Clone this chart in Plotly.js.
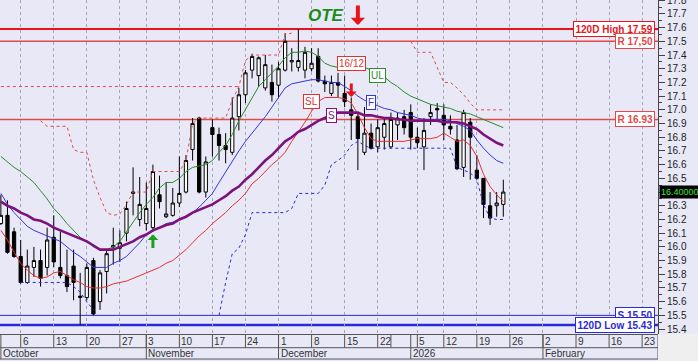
<!DOCTYPE html>
<html><head><meta charset="utf-8">
<script src="https://cdn.plot.ly/plotly-3.0.1.min.js"></script>
<style>html,body{margin:0;padding:0;background:#fff}#chart{width:698px;height:361px}</style>
</head><body><div id="chart"></div>
<script>
// ---------- DATA ----------
const dates = ['2025-10-01','2025-10-02','2025-10-03','2025-10-06','2025-10-07','2025-10-08','2025-10-09','2025-10-10','2025-10-13','2025-10-14','2025-10-15','2025-10-16','2025-10-17','2025-10-20','2025-10-21','2025-10-22','2025-10-23','2025-10-24','2025-10-27','2025-10-29','2025-10-30','2025-10-31',
'2025-11-03','2025-11-04','2025-11-05','2025-11-06','2025-11-07','2025-11-10','2025-11-11','2025-11-12','2025-11-13','2025-11-14','2025-11-17','2025-11-18','2025-11-19','2025-11-20','2025-11-21','2025-11-24','2025-11-25','2025-11-26','2025-11-27','2025-11-28',
'2025-12-01','2025-12-02','2025-12-03','2025-12-04','2025-12-05','2025-12-08','2025-12-09','2025-12-10','2025-12-11','2025-12-12','2025-12-15','2025-12-16','2025-12-17','2025-12-18','2025-12-19','2025-12-22','2025-12-23','2025-12-29','2025-12-30','2025-12-31',
'2026-01-02','2026-01-05','2026-01-07','2026-01-08','2026-01-09','2026-01-12','2026-01-13','2026-01-14','2026-01-15','2026-01-16','2026-01-19','2026-01-20','2026-01-21','2026-01-22','2026-01-23'];
const futureDates = ['2026-01-26','2026-01-27','2026-01-28','2026-01-29','2026-01-30','2026-02-02','2026-02-03','2026-02-04','2026-02-05','2026-02-06','2026-02-09','2026-02-10','2026-02-11','2026-02-12','2026-02-13','2026-02-16','2026-02-17','2026-02-18','2026-02-19','2026-02-20','2026-02-23','2026-02-24','2026-02-25','2026-02-26','2026-02-27'];

const open = [16.17,16.23,16.11,15.93,15.74,15.85,15.90,15.85,16.07,15.85,15.79,15.86,15.63,15.63,15.90,15.60,15.82,16.00,15.99,16.10,16.39,16.20,
16.17,16.14,16.38,16.22,16.23,16.32,16.40,16.71,16.94,16.40,16.87,16.82,16.74,16.69,16.95,17.11,17.29,17.25,17.16,17.20,
17.18,17.29,17.35,17.31,17.29,17.30,17.39,17.21,17.12,17.20,17.12,17.00,16.95,16.69,16.83,16.73,16.80,16.73,16.89,16.95,
16.98,16.80,16.73,16.95,17.01,16.96,16.88,16.78,16.58,16.91,16.56,16.50,16.30,16.30,16.31];
const high = [16.38,16.34,16.14,16.05,15.98,16.00,15.98,16.14,16.23,16.11,15.98,15.98,15.81,15.88,15.92,15.83,15.98,16.14,16.12,16.33,16.58,16.51,
16.47,16.60,16.52,16.47,16.43,16.66,16.67,16.94,16.95,16.66,16.93,16.87,16.83,17.09,17.16,17.29,17.41,17.39,17.40,17.33,
17.35,17.56,17.45,17.59,17.46,17.45,17.45,17.25,17.25,17.27,17.25,17.09,16.98,17.02,16.90,16.93,16.94,16.98,16.98,17.00,
17.04,16.87,16.94,17.04,17.05,17.04,16.96,16.89,17.00,16.94,16.67,16.50,16.40,16.40,16.49];
const low = [16.16,15.95,15.92,15.73,15.73,15.78,15.71,15.79,15.85,15.77,15.67,15.61,15.43,15.61,15.50,15.54,15.66,15.87,15.89,16.04,16.23,16.15,
16.12,16.11,16.28,16.21,16.22,16.29,16.39,16.63,16.39,16.36,16.66,16.63,16.61,16.67,16.85,17.05,17.23,17.17,17.14,17.06,
17.09,17.28,17.28,17.28,17.23,17.28,17.20,17.13,17.10,17.09,17.02,16.78,16.56,16.67,16.71,16.69,16.71,16.72,16.78,16.82,
16.71,16.72,16.56,16.89,16.93,16.78,16.82,16.56,16.51,16.49,16.49,16.21,16.16,16.22,16.22];
const close = [16.23,15.96,15.93,15.74,15.86,15.90,15.77,16.05,15.89,15.79,15.71,15.74,15.64,15.85,15.51,15.81,15.95,16.01,16.03,16.28,16.40,16.31,
16.28,16.55,16.33,16.24,16.32,16.39,16.63,16.90,16.40,16.62,16.82,16.74,16.71,16.94,17.11,17.27,17.39,17.38,17.33,17.11,
17.30,17.50,17.36,17.36,17.42,17.34,17.21,17.19,17.20,17.18,17.06,16.96,16.79,16.83,16.72,16.87,16.90,16.93,16.94,16.87,
16.80,16.76,16.85,16.98,17.00,16.89,16.86,16.57,16.98,16.80,16.50,16.31,16.21,16.32,16.40];

// indicator lines (S = purple, F = blue, UL = green, SL = red)
const sLine = [16.33,16.30,16.28,16.25,16.23,16.20,16.19,16.17,16.14,16.12,16.10,16.08,16.06,16.04,16.01,15.98,15.98,15.98,16.00,16.02,16.04,16.07,16.09,16.12,16.14,16.16,16.17,16.20,16.22,16.25,16.27,16.29,16.31,16.34,16.37,16.41,16.44,16.49,16.53,16.58,16.63,16.67,16.72,16.77,16.80,16.84,16.86,16.89,16.92,16.94,16.96,16.98,16.98,16.98,16.98,16.96,16.96,16.95,16.94,16.94,16.93,16.93,16.92,16.92,16.92,16.92,16.92,16.91,16.91,16.91,16.90,16.88,16.86,16.82,16.79,16.76,16.74];
const fLine = [16.39,16.31,16.25,16.20,16.15,16.12,16.10,16.08,16.06,16.04,16.00,15.96,15.93,15.89,15.85,15.85,15.85,15.88,15.90,15.93,15.98,16.03,16.09,16.12,16.14,16.17,16.18,16.20,16.22,16.25,16.29,16.34,16.39,16.47,16.55,16.62,16.70,16.77,16.83,16.89,16.95,17.02,17.09,17.16,17.19,17.20,17.21,17.22,17.22,17.21,17.20,17.20,17.17,17.14,17.10,17.07,17.05,17.03,17.01,17.00,16.98,16.97,16.96,16.94,16.93,16.93,16.93,16.93,16.92,16.90,16.88,16.85,16.78,16.72,16.67,16.63,16.61];
const ulLine = [16.66,16.62,16.58,16.55,16.51,16.47,16.41,16.35,16.28,16.23,16.17,16.12,16.07,16.04,16.00,15.98,15.98,16.00,16.04,16.11,16.18,16.25,16.31,16.36,16.43,16.47,16.47,16.50,16.55,16.58,16.59,16.60,16.63,16.69,16.74,16.82,16.92,17.00,17.09,17.17,17.22,17.27,17.32,17.38,17.42,17.42,17.43,17.42,17.39,17.34,17.32,17.31,17.32,17.34,17.33,17.31,17.29,17.27,17.24,17.20,17.17,17.13,17.10,17.08,17.06,17.04,17.03,17.02,17.01,16.99,16.98,16.97,16.95,16.93,16.91,16.89,16.87];
const slLine = [16.12,16.05,15.96,15.88,15.83,15.79,15.77,15.78,15.81,15.82,15.79,15.76,15.74,15.71,15.70,15.70,15.71,15.73,15.74,15.75,15.77,15.79,15.81,15.83,15.85,15.88,15.90,15.94,15.98,16.03,16.08,16.12,16.17,16.21,16.25,16.30,16.34,16.39,16.46,16.50,16.55,16.60,16.64,16.69,16.77,16.84,16.91,16.99,17.06,17.09,17.09,17.09,17.08,17.05,16.97,16.87,16.79,16.77,16.77,16.77,16.77,16.77,16.78,16.79,16.79,16.79,16.80,16.83,16.80,16.77,16.78,16.74,16.66,16.53,16.44,16.38,16.33];
// trailing stop lines (dotted), null where not drawn
const upperStop = [null,null,null,null,null,null,16.92,16.88,16.88,16.88,16.88,16.71,16.69,16.69,16.49,16.36,16.25,16.23,16.24,16.31,16.40,16.40,16.40,16.55,16.55,16.55,16.55,16.55,16.63,16.90,16.94,16.94,16.94,16.94,16.94,17.07,17.17,17.36,17.40,17.40,17.40,17.40,17.40,17.55,17.56,null,null,null,null,null,null,null,null,null,null,null,null,null,null,null,null,null,17.50,17.42,17.42,17.42,17.31,17.20,17.20,17.16,17.11,17.05,17.00,17.00,17.00,17.00,17.00];
const lowerStop = [null,null,null,15.74,15.74,15.74,15.74,15.74,15.74,15.74,15.74,15.71,15.67,15.60,15.54,null,null,null,null,null,null,null,null,null,null,null,null,null,null,null,null,null,null,15.50,15.74,15.95,15.99,16.09,16.25,16.25,16.25,16.25,16.25,16.25,16.28,16.39,16.39,16.39,16.39,16.45,16.60,16.63,16.67,16.74,16.77,16.74,16.72,16.72,16.72,16.72,16.72,16.72,16.72,16.72,16.72,16.72,16.72,16.72,16.72,16.58,16.56,16.54,16.49,16.31,16.21,16.20,16.20];
const prevStopLevel = 17.17;
const prevStopDates = ['2025-10-01','2025-11-21'];

// horizontal levels
const levelValues = [17.59, 17.50, 16.93, 15.50, 15.43];
const levelLabels = ['120D High 17.59', 'R 17,50', 'R 16.93', 'S 15.50', '120D Low 15.43'];

// price axis labels (16.4 sits under the last-price box)
const yTickLabels = ['15.4','15.5','15.6','15.7','15.8','15.9','16.0','16.1','16.2','16.3','16.5','16.6','16.7','16.8','16.9','17.0','17.1','17.2','17.3','17.4','17.5','17.6','17.7','17.8'];

// date axis
const weekTicks = ['2025-10-06','2025-10-13','2025-10-20','2025-10-27','2025-11-03','2025-11-10','2025-11-17','2025-11-24','2025-12-01','2025-12-08','2025-12-15','2025-12-22','2026-01-05','2026-01-12','2026-01-19','2026-01-26','2026-02-02','2026-02-09','2026-02-16','2026-02-23'];
const weekLabels = ['6','13','20','27','3','10','17','24','1','8','15','22','5','12','19','26','2','9','16','23'];
const blankWeekSeps = ['2025-12-29'];
const monthStarts = ['2025-10-01','2025-11-03','2025-12-01','2026-01-02','2026-02-02'];
const monthLabels = ['October','November','December','2026','February'];

// signals
const oteSignalDate = '2025-12-17';
const sellSignalDate = '2025-12-16';
const buySignalDate = '2025-11-04';

// ---------- STYLE ----------
const FONT = 'Liberation Sans, Arial, sans-serif';
const BG = 'rgb(232,232,247)';
const RED = '#e8141c', RED2 = '#e04a4a', BLUE = '#2a2ad6', GREEN = '#2a8a2a', PURPLE = '#7d127d';
const levelColors = [RED, RED2, RED2, BLUE, BLUE];
const levelWidths = [2, 1.5, 1.5, 1, 2.5];

const allDates = dates.concat(futureDates);
const idx = d => allDates.indexOf(d);

const traces = [];
traces.push({type:'scatter', mode:'lines', x: allDates, y: allDates.map(() => null), hoverinfo:'skip', showlegend:false});
traces.push({type:'candlestick', x: dates, open, high, low, close,
  increasing:{line:{color:'#000', width:1}, fillcolor:'#ffffff'},
  decreasing:{line:{color:'#000', width:1}, fillcolor:'#000000'},
  whiskerwidth:0, hoverinfo:'skip', showlegend:false});
function lt(x, y, color, width, dash){ return {type:'scatter', mode:'lines', x, y, line:{color, width, dash: dash || 'solid'}, connectgaps:false, hoverinfo:'skip', showlegend:false}; }
traces.push(lt(prevStopDates, prevStopDates.map(() => prevStopLevel), RED2, 1, 'dot'));
traces.push(lt(dates, upperStop, RED2, 1, 'dot'));
traces.push(lt(dates, lowerStop, BLUE, 1, 'dot'));
traces.push(lt(dates, ulLine, GREEN, 1));
traces.push(lt(dates, slLine, '#e83030', 1));
traces.push(lt(dates, fLine, '#3535e0', 1));
traces.push(lt(dates, sLine, PURPLE, 2.6));

const shapes = [];
levelValues.forEach((v, i) => shapes.push({type:'line', xref:'paper', x0:0, x1:1, yref:'y', y0:v, y1:v, layer:'between', line:{color:levelColors[i], width:levelWidths[i]}}));
const ROW1 = -0.041, ROW2 = -0.0749;
shapes.push({type:'line', xref:'paper', x0:0, x1:1, yref:'paper', y0:ROW1, y1:ROW1, line:{color:'#555', width:1}});
shapes.push({type:'line', xref:'paper', x0:0, x1:1, yref:'paper', y0:ROW2, y1:ROW2, line:{color:'#555', width:1}});
shapes.push({type:'line', xref:'paper', x0:1, x1:1, yref:'paper', y0:0, y1:ROW2, line:{color:'#555', width:1}});
shapes.push({type:'rect', xref:'paper', x0:1, x1:1.1, yref:'paper', y0:-0.1, y1:0, fillcolor:'#efefef', line:{width:0}, layer:'above'});
weekTicks.concat(blankWeekSeps).forEach(d => shapes.push({type:'line', xref:'x', x0:idx(d), x1:idx(d), yref:'paper', y0:0, y1:ROW1, line:{color:'#555', width:1}}));
monthStarts.forEach(d => shapes.push({type:'line', xref:'x', x0:idx(d), x1:idx(d), yref:'paper', y0:0, y1:ROW2, line:{color:'#555', width:1}}));

const ann = [];
levelValues.forEach((v, i) => ann.push({xref:'paper', x:1, xanchor:'right', xshift:-3, yref:'y', y:v, yanchor:'middle', text:levelLabels[i], showarrow:false,
  font:{family:FONT, size:10, color:levelColors[i], weight:'bold'}, bgcolor:'#ffffff', bordercolor:levelColors[i], borderwidth:1, borderpad:1.5}));
ann.push({xref:'paper', x:1, xanchor:'left', xshift:1, yref:'y', y:close[close.length-1], yanchor:'middle', text:close[close.length-1].toFixed(5), showarrow:false,
  font:{family:FONT, size:9, color:'#33ee33'}, bgcolor:'#000000', borderpad:1});
// signals
ann.push({xref:'x', x:idx(oteSignalDate), yref:'paper', y:0.955, xanchor:'right', xshift:-12, yanchor:'middle', text:'OTE', showarrow:false,
  font:{family:FONT, size:17, color:'#1a8c1a', weight:'bold', style:'italic'}});
ann.push({xref:'x', x:idx(oteSignalDate), yref:'paper', y:0.925, ax:0, ay:-21, text:'', showarrow:true, arrowhead:1, arrowwidth:4, arrowsize:0.6, arrowcolor:RED});
ann.push({xref:'x', x:idx(sellSignalDate), yref:'y', y:17.094, ax:0, ay:-15, text:'', showarrow:true, arrowhead:1, arrowwidth:3, arrowsize:0.6, arrowcolor:RED});
ann.push({xref:'x', x:idx(buySignalDate), yref:'y', y:16.09, ax:0, ay:15, text:'', showarrow:true, arrowhead:1, arrowwidth:3, arrowsize:0.6, arrowcolor:'#1e9e1e'});
function tag(text, d, y, color, yshift){ return {xref:'x', x:idx(d), yref:'y', y, yshift: yshift || 0, text, showarrow:false, font:{family:FONT, size:10, color}, bgcolor:'#ffffff', bordercolor:color, borderwidth:1, borderpad:1}; }
ann.push(tag('16/12', sellSignalDate, 17.34, '#e03030'));
ann.push(tag('UL', '2025-12-22', ulLine[57], GREEN, -3));
ann.push(tag('F', '2025-12-19', fLine[56], '#3535e0', 0));
ann.push(tag('SL', '2025-12-08', slLine[47], '#e03030', 10));
ann.push(tag('S', '2025-12-11', sLine[50], PURPLE, 0));
// date labels
weekTicks.forEach((d, i) => ann.push({xref:'x', x:idx(d), xanchor:'left', yref:'paper', y:-0.021, yanchor:'middle', text:weekLabels[i], showarrow:false, font:{family:FONT, size:10, color:'#333'}}));
monthStarts.forEach((d, i) => ann.push({xref:'x', x:idx(d), xanchor:'left', yref:'paper', y:-0.057, yanchor:'middle', text:monthLabels[i], showarrow:false, font:{family:FONT, size:10, color:'#333'}}));

const layout = {
  width:698, height:361,
  margin:{l:0, r:40, t:0, b:27, pad:0},
  paper_bgcolor:BG, plot_bgcolor:BG, showlegend:false,
  font:{family:FONT, size:10, color:'#333'},
  xaxis:{type:'category', categoryorder:'array', categoryarray:allDates, range:[-0.13, 99.4], autorange:false,
    tickmode:'array', tickvals:weekTicks, showticklabels:false, ticks:'',
    showgrid:true, gridcolor:'#a4a4b8', griddash:'dot', gridwidth:1,
    showline:true, linecolor:'#555', linewidth:1, zeroline:false, rangeslider:{visible:false}, fixedrange:true},
  yaxis:{side:'right', range:[15.364, 17.8017], autorange:false, tickmode:'array', tickvals:yTickLabels.map(Number), ticktext:yTickLabels,
    ticks:'outside', ticklen:6, tickcolor:'#444', showgrid:false, zeroline:false, showline:true, linecolor:'#444', linewidth:1,
    ticklabeloverflow:'allow',
    minor:{ticks:'outside', ticklen:3, tickmode:'linear', tick0:0, dtick:0.05, tickcolor:'#444', showgrid:false},
    tickfont:{family:FONT, size:10, color:'#222'}, fixedrange:true},
  shapes, annotations:ann
};
Plotly.newPlot('chart', traces, layout, {staticPlot:true, displayModeBar:false});
</script></body></html>
